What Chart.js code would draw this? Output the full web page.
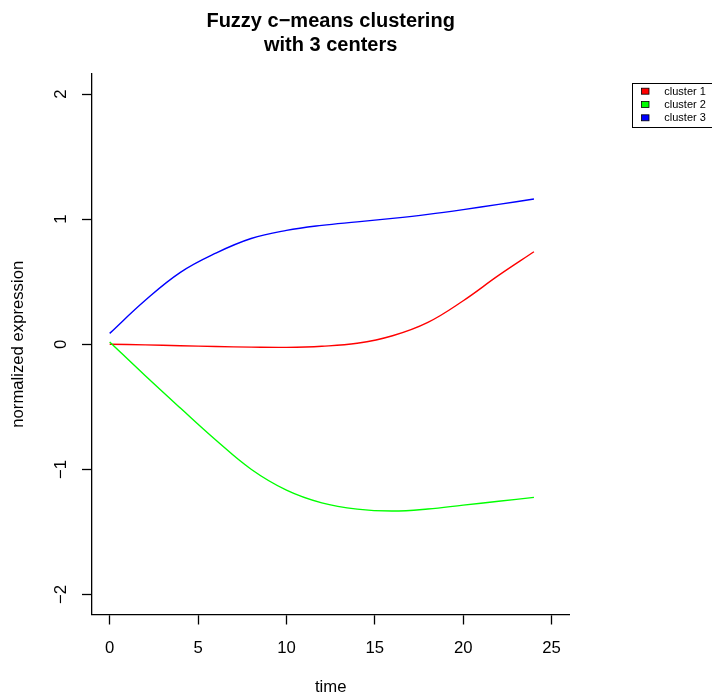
<!DOCTYPE html>
<html>
<head>
<meta charset="utf-8">
<script src="https://cdn.jsdelivr.net/npm/chart.js@4.4.0/dist/chart.umd.min.js"></script>
<style>
  html, body { margin: 0; padding: 0; background: #fff; }
  #wrap { width: 712px; height: 697px; position: relative; }
</style>
</head>
<body>
<div id="wrap"><canvas id="fcmChart"></canvas></div>
<script>
const timePoints = [0, 2, 4, 6, 8, 10, 12, 14, 16, 18, 20, 22, 24];
const cluster1 = [0, -0.005, -0.012, -0.018, -0.023, -0.025, -0.016, 0.008, 0.068, 0.175, 0.348, 0.55, 0.739];
const cluster2 = [0.018, -0.25, -0.51, -0.765, -0.999, -1.166, -1.268, -1.318, -1.333, -1.317, -1.286, -1.255, -1.224];
const cluster3 = [0.087, 0.35, 0.575, 0.728, 0.845, 0.91, 0.95, 0.978, 1.006, 1.038, 1.076, 1.118, 1.161];
const seriesNames = ['cluster 1', 'cluster 2', 'cluster 3'];
const seriesColors = ['#ff0000', '#00ff00', '#0000ff'];
const xTicks = [0, 5, 10, 15, 20, 25];
const yTicks = [-2, -1, 0, 1, 2];

const FONT = '"Liberation Sans", Arial, Helvetica, sans-serif';

function toPoints(values) {
    return timePoints.map((t, i) => ({ x: t, y: values[i] }));
}

function minusLabel(v) {
    return v < 0 ? '\u2212' + Math.abs(v) : String(v);
}

// R-style legend box, drawn at the top right outside the plot
const boxLegend = {
    id: 'boxLegend',
    afterDraw(chart) {
        const ctx = chart.ctx;
        ctx.save();
        ctx.strokeStyle = '#000';
        ctx.lineWidth = 1;
        ctx.strokeRect(632.5, 83.5, 100, 44);
        ctx.font = '11px ' + FONT;
        ctx.textBaseline = 'middle';
        ctx.textAlign = 'left';
        chart.data.datasets.forEach((ds, i) => {
            const cy = 91.2 + i * 13.3;
            ctx.fillStyle = ds.borderColor;
            ctx.fillRect(641.5, cy - 3, 7.5, 6);
            ctx.lineWidth = 0.8;
            ctx.strokeRect(641.5, cy - 3, 7.5, 6);
            ctx.fillStyle = '#000';
            ctx.fillText(ds.label, 664.3, cy + 0.5);
        });
        ctx.restore();
    }
};

const ctx = document.getElementById('fcmChart').getContext('2d');
new Chart(ctx, {
    type: 'line',
    data: {
        datasets: [cluster1, cluster2, cluster3].map((vals, i) => ({
            label: seriesNames[i],
            data: toPoints(vals),
            borderColor: seriesColors[i],
            backgroundColor: seriesColors[i],
            borderWidth: 1.4,
            pointRadius: 0,
            fill: false,
            tension: 0.4,
            order: 3 - i
        }))
    },
    options: {
        responsive: true,
        maintainAspectRatio: false,
        animation: false,
        layout: { padding: { left: 0, right: 142.7, top: 0, bottom: 0 } },
        plugins: {
            legend: { display: false },
            tooltip: { enabled: false },
            title: {
                display: true,
                fullSize: false,
                text: ['Fuzzy c\u2212means clustering', 'with 3 centers'],
                color: '#000',
                font: { family: FONT, size: 20, weight: 'bold', lineHeight: 1.2 },
                padding: { top: 9.3, bottom: 16.7 }
            }
        },
        scales: {
            x: {
                type: 'linear',
                min: -1,
                max: 26,
                afterBuildTicks: scale => { scale.ticks = xTicks.map(v => ({ value: v })); },
                afterFit: scale => { scale.height = 82.5; },
                grid: { drawOnChartArea: false, drawTicks: true, tickLength: 10, tickWidth: 1.3, tickColor: '#000' },
                border: { display: true, color: '#000', width: 1.3 },
                ticks: {
                    color: '#000',
                    font: { family: FONT, size: 16.7 },
                    padding: 13.5,
                    maxRotation: 0,
                    autoSkip: false,
                    callback: v => minusLabel(v)
                },
                title: {
                    display: true,
                    text: 'time',
                    color: '#000',
                    font: { family: FONT, size: 16.7 },
                    padding: { top: 0, bottom: 0 }
                }
            },
            y: {
                type: 'linear',
                min: -2.16,
                max: 2.16,
                afterBuildTicks: scale => { scale.ticks = yTicks.map(v => ({ value: v })); },
                afterFit: scale => { scale.width = 92; },
                grid: { drawOnChartArea: false, drawTicks: true, tickLength: 10, tickWidth: 1.3, tickColor: '#000' },
                border: { display: true, color: '#000', width: 1.3 },
                ticks: {
                    color: '#000',
                    font: { family: FONT, size: 16.7 },
                    padding: 11.3,
                    minRotation: 90,
                    maxRotation: 90,
                    crossAlign: 'center',
                    autoSkip: false,
                    callback: v => minusLabel(v)
                },
                title: {
                    display: true,
                    text: 'normalized expression',
                    color: '#000',
                    font: { family: FONT, size: 16.7 },
                    padding: { top: 8.2, bottom: 0 }
                }
            }
        }
    },
    plugins: [boxLegend]
});
</script>
</body>
</html>
